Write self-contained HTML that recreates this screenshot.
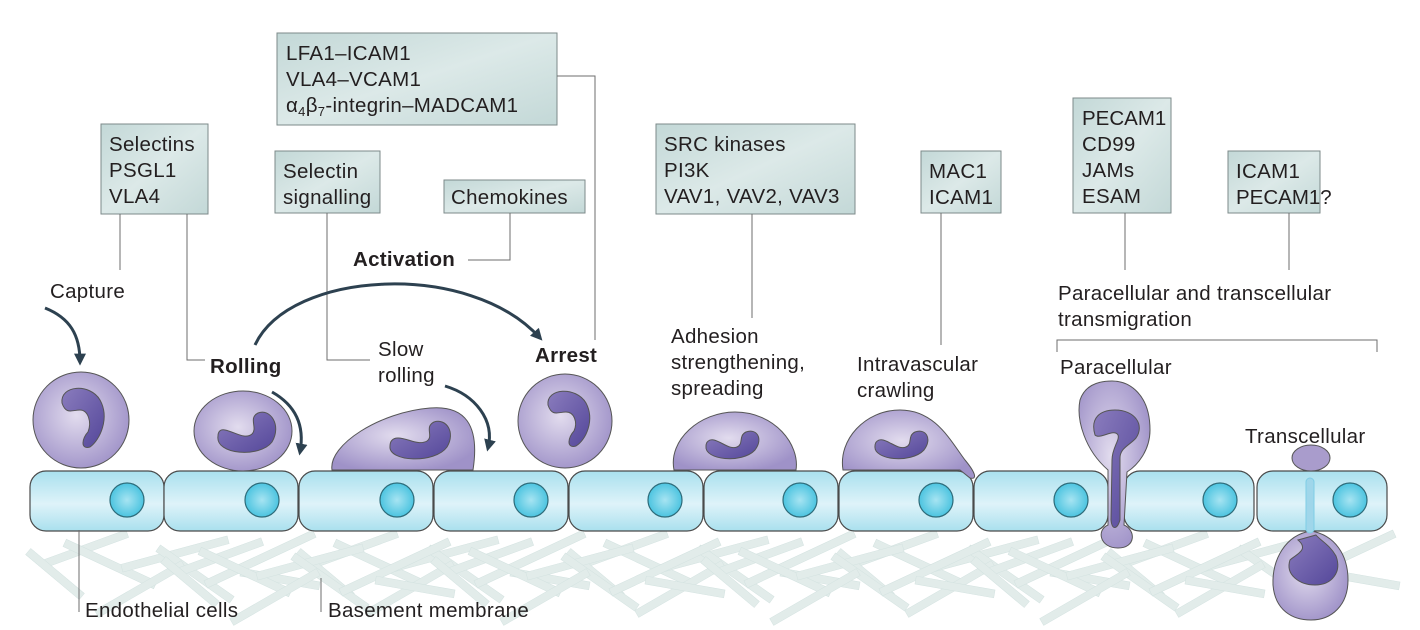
<!DOCTYPE html>
<html><head><meta charset="utf-8"><style>
html,body{margin:0;padding:0;background:#fff}
svg{display:block}
text{font-family:"Liberation Sans",sans-serif;fill:#231f20}
</style></head><body>
<svg width="1420" height="630" viewBox="0 0 1420 630" xmlns="http://www.w3.org/2000/svg">
<defs>
<linearGradient id="box" x1="0" y1="0" x2="1" y2="1"><stop offset="0" stop-color="#c3d8d7"/><stop offset="0.5" stop-color="#dce9e8"/><stop offset="1" stop-color="#c3d8d7"/></linearGradient>
<linearGradient id="endo" x1="0" y1="0" x2="0" y2="1"><stop offset="0" stop-color="#a9e0ee"/><stop offset="0.55" stop-color="#def3f9"/><stop offset="1" stop-color="#a9e0ee"/></linearGradient>
<radialGradient id="nuc" cx="0.5" cy="0.5" r="0.5"><stop offset="0" stop-color="#a7e4f2"/><stop offset="1" stop-color="#4cc4e0"/></radialGradient>
<radialGradient id="cell" cx="0.45" cy="0.45" r="0.6"><stop offset="0" stop-color="#e2dcee"/><stop offset="1" stop-color="#9f92c8"/></radialGradient>
<linearGradient id="nk" x1="0" y1="0" x2="1" y2="1"><stop offset="0" stop-color="#8a7cbd"/><stop offset="1" stop-color="#54479a"/></linearGradient>
<marker id="ah" viewBox="0 0 10 10" refX="7" refY="5" markerWidth="4" markerHeight="4" orient="auto"><path d="M0,0 L10,5 L0,10 z" fill="#2d4150"/></marker>
</defs>

<g fill="#e2ecea" stroke="#d3e2e0" stroke-width="0.5">
<g id="bm">
<rect x="40" y="545" width="90" height="8" transform="rotate(-20 85 549)"/>
<rect x="60" y="560" width="100" height="8" transform="rotate(25 110 564)"/>
<rect x="120" y="550" width="110" height="8" transform="rotate(-15 175 554)"/>
<rect x="150" y="570" width="90" height="8" transform="rotate(35 195 574)"/>
<rect x="200" y="555" width="120" height="8" transform="rotate(-25 260 559)"/>
<rect x="240" y="575" width="80" height="8" transform="rotate(10 280 579)"/>
<rect x="90" y="585" width="100" height="8" transform="rotate(-30 140 589)"/>
<rect x="20" y="570" width="70" height="8" transform="rotate(40 55 574)"/>
</g>
<use href="#bm" x="270"/><use href="#bm" x="540"/><use href="#bm" x="810"/><use href="#bm" x="1080"/>
<use href="#bm" x="135" y="8"/><use href="#bm" x="405" y="8"/><use href="#bm" x="675" y="8"/><use href="#bm" x="945" y="8"/>
</g>

<g stroke="#4a4a4a" stroke-width="1.2">
<rect x="30" y="471" width="134" height="60" rx="16" fill="url(#endo)"/>
<rect x="164" y="471" width="134" height="60" rx="16" fill="url(#endo)"/>
<rect x="299" y="471" width="134" height="60" rx="16" fill="url(#endo)"/>
<rect x="434" y="471" width="134" height="60" rx="16" fill="url(#endo)"/>
<rect x="569" y="471" width="134" height="60" rx="16" fill="url(#endo)"/>
<rect x="704" y="471" width="134" height="60" rx="16" fill="url(#endo)"/>
<rect x="839" y="471" width="134" height="60" rx="16" fill="url(#endo)"/>
<rect x="974" y="471" width="134" height="60" rx="16" fill="url(#endo)"/>
<rect x="1124" y="471" width="130" height="60" rx="16" fill="url(#endo)"/>
<rect x="1257" y="471" width="130" height="60" rx="16" fill="url(#endo)"/>
<g fill="url(#nuc)" stroke="#2e6c7a">
<circle cx="127" cy="500" r="17"/><circle cx="262" cy="500" r="17"/><circle cx="397" cy="500" r="17"/><circle cx="531" cy="500" r="17"/><circle cx="665" cy="500" r="17"/><circle cx="800" cy="500" r="17"/><circle cx="936" cy="500" r="17"/><circle cx="1071" cy="500" r="17"/><circle cx="1220" cy="500" r="17"/><circle cx="1350" cy="500" r="17"/>
</g>
</g>

<g stroke="#555" stroke-width="1">
<circle cx="81" cy="420" r="48" fill="url(#cell)"/>
<path d="M62,403 C60,385 90,383 100,400 C110,418 100,440 90,447 C80,450 82,438 88,432 C92,422 88,410 80,410 C72,410 66,415 62,403 Z" fill="url(#nk)"/>
<ellipse cx="243" cy="431" rx="49" ry="40" fill="url(#cell)"/>
<path d="M218,436 C215,455 260,458 272,442 C282,425 270,408 258,413 C248,418 258,428 252,434 C245,440 235,432 225,430 C220,429 218,432 218,436 Z" fill="url(#nk)"/>
<path d="M332,470 C328,445 380,412 430,408 C465,405 480,425 473,470 Z" fill="url(#cell)"/>
<path d="M390,446 C388,462 435,464 447,447 C456,432 446,418 434,422 C424,427 434,436 427,441 C418,446 408,438 398,438 C392,438 390,442 390,446 Z" fill="url(#nk)"/>
<circle cx="565" cy="421" r="47" fill="url(#cell)"/>
<path d="M548,405 C546,388 576,386 586,403 C595,420 586,440 576,446 C566,449 568,437 574,431 C578,422 574,412 566,412 C558,412 552,417 548,405 Z" fill="url(#nk)"/>
<path d="M674,470 C668,440 700,412 735,412 C775,412 800,445 796,470 Z" fill="url(#cell)"/>
<path d="M706,446 C704,460 742,464 755,450 C764,438 756,428 746,432 C738,436 744,444 737,447 C730,450 722,442 714,440 C709,439 706,442 706,446 Z" fill="url(#nk)"/>
<path d="M843,470 C838,440 865,410 900,410 C935,410 950,440 965,460 C975,472 978,480 970,478 L960,470 Z" fill="url(#cell)"/>
<path d="M875,446 C873,460 911,464 924,450 C933,438 925,428 915,432 C907,436 913,444 906,447 C899,450 891,442 883,440 C878,439 875,442 875,446 Z" fill="url(#nk)"/>
<path d="M1108,470 C1085,450 1076,420 1080,400 C1085,385 1098,381 1112,381 C1130,381 1150,395 1150,430 C1150,450 1138,465 1127,472 L1124,525 C1136,530 1136,548 1118,548 C1100,548 1096,530 1108,525 Z" fill="url(#cell)"/>
<path d="M1095,435 C1090,418 1100,410 1115,410 C1135,410 1145,425 1136,438 C1130,445 1120,448 1120,458 L1120,520 C1117,530 1112,530 1111,520 L1112,460 C1112,448 1120,440 1118,435 C1114,428 1100,440 1095,435 Z" fill="url(#nk)"/>
<ellipse cx="1311" cy="458" rx="19" ry="13" fill="#a99ccc"/>
<path d="M1311,531 C1285,535 1272,560 1273,585 C1275,610 1292,620 1311,620 C1332,620 1348,605 1348,580 C1348,555 1335,535 1311,531 Z" fill="url(#cell)"/>
<path d="M1298,540 C1310,550 1295,555 1290,560 C1285,575 1300,585 1315,585 C1332,585 1342,572 1336,556 C1330,545 1320,540 1316,535 Z" fill="url(#nk)"/>
<rect x="1306" y="478" width="8" height="55" rx="4" fill="#9fd6ea" stroke="#7fcde5"/>
</g>

<g fill="url(#box)" stroke="#7c8a8a" stroke-width="1">
<rect x="101" y="124" width="107" height="90"/>
<rect x="275" y="151" width="105" height="62"/>
<rect x="444" y="180" width="141" height="33"/>
<rect x="277" y="33" width="280" height="92"/>
<rect x="656" y="124" width="199" height="90"/>
<rect x="921" y="151" width="80" height="62"/>
<rect x="1073" y="98" width="98" height="115"/>
<rect x="1228" y="151" width="92" height="62"/>
</g>

<g fill="none" stroke="#6d6d6d" stroke-width="1">
<path d="M120,214 V270"/>
<path d="M187,214 V360 H205"/>
<path d="M327,213 V360 H370"/>
<path d="M510,213 V260 H468"/>
<path d="M557,76 H595 V340"/>
<path d="M752,214 V318"/>
<path d="M941,213 V345"/>
<path d="M1125,213 V270"/>
<path d="M1289,213 V270"/>
<path d="M1057,352 V340 H1377 V352"/>
<path d="M79,530 V612"/>
<path d="M321,578 V612"/>
</g>

<g fill="none" stroke="#2d4150" stroke-width="3" marker-end="url(#ah)">
<path d="M45,308 C70,318 80,335 80,362"/>
<path d="M272,392 C295,405 305,425 300,452"/>
<path d="M445,386 C475,395 495,420 488,448"/>
<path d="M255,345 C290,270 470,260 540,338"/>
</g>

<g font-size="20.5" letter-spacing="0.3">
<text x="109" y="151">Selectins</text><text x="109" y="177">PSGL1</text><text x="109" y="203">VLA4</text>
<text x="283" y="178">Selectin</text><text x="283" y="204">signalling</text>
<text x="451" y="204">Chemokines</text>
<text x="286" y="60">LFA1–ICAM1</text><text x="286" y="86">VLA4–VCAM1</text>
<text x="286" y="112">α<tspan font-size="13" dy="4">4</tspan><tspan dy="-4">β</tspan><tspan font-size="13" dy="4">7</tspan><tspan dy="-4">-integrin–MADCAM1</tspan></text>
<text x="664" y="151">SRC kinases</text><text x="664" y="177">PI3K</text><text x="664" y="203">VAV1, VAV2, VAV3</text>
<text x="929" y="178">MAC1</text><text x="929" y="204">ICAM1</text>
<text x="1082" y="125" letter-spacing="0">PECAM1</text><text x="1082" y="151">CD99</text><text x="1082" y="177">JAMs</text><text x="1082" y="203">ESAM</text>
<text x="1236" y="178">ICAM1</text><text x="1236" y="204" letter-spacing="0">PECAM1?</text>
<text x="50" y="298">Capture</text>
<text x="210" y="373" font-weight="bold">Rolling</text>
<text x="353" y="266" font-weight="bold">Activation</text>
<text x="378" y="356">Slow</text><text x="378" y="382">rolling</text>
<text x="535" y="362" font-weight="bold">Arrest</text>
<text x="671" y="343">Adhesion</text><text x="671" y="369">strengthening,</text><text x="671" y="395">spreading</text>
<text x="857" y="371">Intravascular</text><text x="857" y="397">crawling</text>
<text x="1058" y="300">Paracellular and transcellular</text><text x="1058" y="326">transmigration</text>
<text x="1060" y="374">Paracellular</text>
<text x="1245" y="443">Transcellular</text>
<text x="85" y="617">Endothelial cells</text>
<text x="328" y="617">Basement membrane</text>
</g>
</svg>
</body></html>
